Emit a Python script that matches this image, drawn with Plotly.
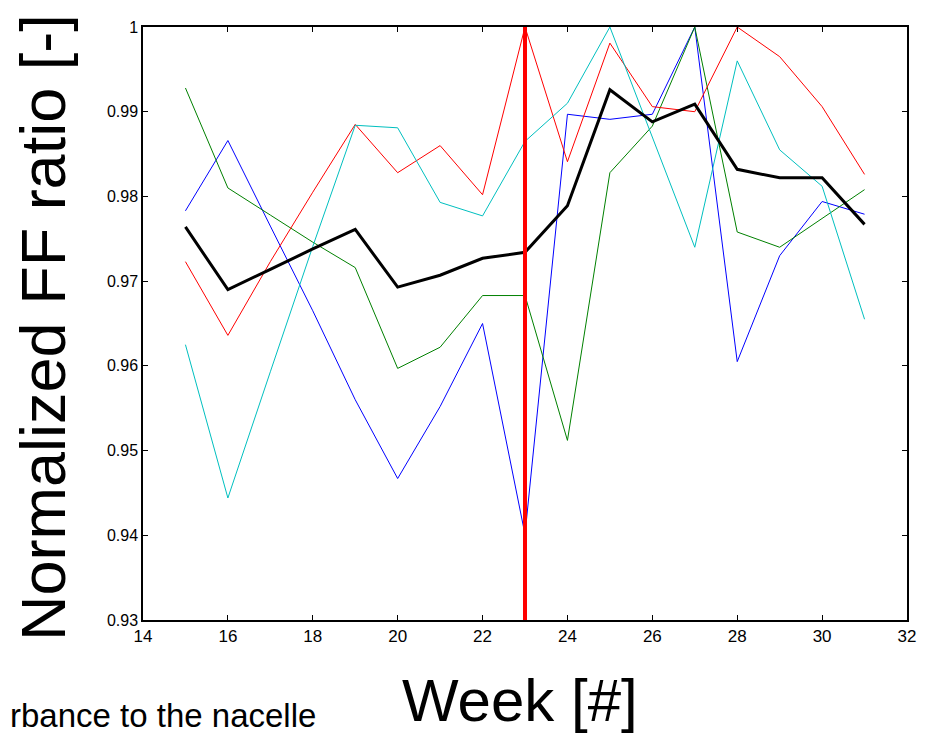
import plotly.graph_objects as go

weeks = list(range(15, 32))
turbine_blue = [0.9783, 0.9866, 0.9765, 0.9665, 0.9560, 0.9467, 0.9552, 0.9650, 0.9401,
                0.9897, 0.9891, 0.9897, 1.0000, 0.9605, 0.9730, 0.9794, 0.9779]
turbine_green = [0.9928, 0.9810, 0.9778, 0.9746, 0.9716, 0.9597, 0.9622, 0.9683, 0.9683,
                 0.9512, 0.9828, 0.9883, 1.0000, 0.9758, 0.9740, 0.9774, 0.9808]
turbine_red = [0.9723, 0.9636, 0.9723, 0.9805, 0.9885, 0.9828, 0.9860, 0.9802, 1.0000,
               0.9841, 0.9981, 0.9906, 0.9900, 1.0000, 0.9965, 0.9906, 0.9826]
turbine_cyan = [0.9625, 0.9444, 0.9593, 0.9741, 0.9884, 0.9881, 0.9793, 0.9777, 0.9865,
                0.9910, 1.0000, 0.9871, 0.9740, 0.9960, 0.9855, 0.9812, 0.9655]
mean_ratio = [0.9764, 0.9690, 0.9714, 0.9738, 0.9761, 0.9693, 0.9707, 0.9727, 0.9734,
              0.9789, 0.9926, 0.9888, 0.9909, 0.9832, 0.9822, 0.9822, 0.9767]
change_week = 23
x_ticks = [14, 16, 18, 20, 22, 24, 26, 28, 30, 32]
y_ticks = [0.93, 0.94, 0.95, 0.96, 0.97, 0.98, 0.99, 1.0]
y_tick_text = ["0.93", "0.94", "0.95", "0.96", "0.97", "0.98", "0.99", "1"]

fig = go.Figure()
for vals, col in [(turbine_blue, "#0000ff"), (turbine_green, "#008000"),
                  (turbine_red, "#ff0000"), (turbine_cyan, "#00bfbf")]:
    fig.add_trace(go.Scatter(x=weeks, y=vals, mode="lines",
                             line=dict(color=col, width=1), showlegend=False))
fig.add_trace(go.Scatter(x=weeks, y=mean_ratio, mode="lines",
                         line=dict(color="black", width=3), showlegend=False))
fig.add_trace(go.Scatter(x=[change_week, change_week], y=[y_ticks[0], y_ticks[-1]],
                         mode="lines", line=dict(color="#ff0000", width=4),
                         showlegend=False))

axis_common = dict(showgrid=False, zeroline=False, showline=True, linecolor="black",
                   linewidth=1.5, mirror="allticks", ticks="inside", ticklen=5,
                   tickcolor="black", tickwidth=1)
fig.update_xaxes(range=[14, 32], tickvals=x_ticks,
                 tickfont=dict(family="Liberation Sans, Arial", size=17, color="black"),
                 **axis_common)
fig.update_yaxes(range=[0.93, 1.0], tickvals=y_ticks, ticktext=y_tick_text,
                 tickfont=dict(family="Liberation Sans, Arial", size=16, color="black"),
                 **axis_common)

L, T, PW, PH = 135, 11, 764, 601
BOT = T + PH  # plot bottom in figure px

fig.add_annotation(text="Normalized FF ratio [-]", xref="paper", yref="paper",
                   x=(35 - L) / PW, y=(BOT - 316) / PH, textangle=-90,
                   showarrow=False, xanchor="center", yanchor="middle",
                   font=dict(family="Liberation Sans, Arial", size=63, color="black"))
fig.add_annotation(text="Week [#]", xref="paper", yref="paper",
                   x=(512 - L) / PW, y=(BOT - 694) / PH,
                   showarrow=False, xanchor="center", yanchor="middle",
                   font=dict(family="Liberation Sans, Arial", size=60, color="black"))
fig.add_annotation(text="rbance to the nacelle", xref="paper", yref="paper",
                   x=(0 - L) / PW, y=(BOT - 709) / PH,
                   showarrow=False, xanchor="left", yanchor="middle",
                   font=dict(family="Liberation Sans, Arial", size=33, color="black"))

fig.update_layout(width=920, height=729,
                  margin=dict(l=L, r=920 - L - PW, t=T, b=729 - T - PH),
                  plot_bgcolor="white", paper_bgcolor="white")
fig.write_html("out.html")
